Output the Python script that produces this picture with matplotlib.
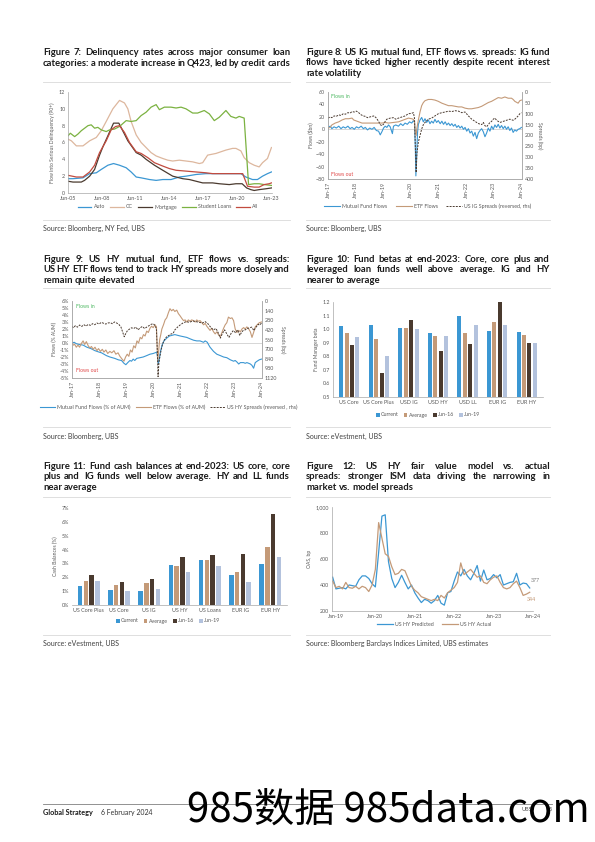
import matplotlib
matplotlib.use("Agg")
import matplotlib.pyplot as plt
from matplotlib.ticker import FuncFormatter

W, H, DPI = 595, 842, 100
plt.rcParams["font.family"] = ["Lato", "DejaVu Sans"]

BLUE = "#3B97D3"
TAN = "#C49A78"
CC_TAN = "#DDB79E"
DARK = "#4A3A2F"
GREEN = "#7BB241"
RED = "#C24B3F"
LAV = "#B3C2DD"
AXC = "#A6A6A6"
TXT = "#595959"

# ---------------- Figure 7: delinquency rates ----------------
auto_x = [2005.50, 2005.94, 2006.83, 2007.42, 2008.01, 2008.45, 2009.04, 2009.54, 2010.07, 2010.66,
          2011.10, 2011.55, 2011.99, 2012.73, 2013.32, 2013.91, 2014.64, 2015.38, 2015.97, 2016.86,
          2017.74, 2018.92, 2019.51, 2020.40, 2020.84, 2021.28, 2021.87, 2022.31, 2022.76, 2023.20, 2023.55]
auto_y = [1.7, 1.7, 1.8, 2.3, 2.4, 2.8, 3.3, 3.5, 3.3, 3.0,
          2.5, 1.9, 1.8, 1.6, 1.5, 1.6, 1.6, 1.9, 2.0, 2.2,
          2.3, 2.3, 2.3, 2.3, 2.3, 1.9, 1.6, 1.6, 2.0, 2.3, 2.5]
cc_x = [2005.50, 2005.80, 2006.24, 2006.83, 2007.42, 2008.01, 2008.45, 2008.89, 2009.48, 2010.07,
        2010.51, 2010.81, 2011.10, 2011.55, 2011.99, 2012.43, 2012.87, 2013.32, 2013.91, 2014.35,
        2014.79, 2015.38, 2015.97, 2016.56, 2017.15, 2017.45, 2017.89, 2018.63, 2019.07, 2019.51,
        2020.10, 2020.40, 2020.84, 2021.13, 2021.58, 2022.02, 2022.46, 2022.76, 2023.20, 2023.55]
cc_y = [6.4, 6.2, 5.6, 5.6, 6.2, 6.6, 7.4, 8.5, 10.0, 11.0,
        10.7, 10.0, 8.5, 6.9, 6.0, 5.4, 4.8, 4.4, 4.1, 3.9,
        3.8, 3.9, 3.8, 3.7, 3.5, 3.6, 4.5, 4.7, 4.9, 5.1,
        5.3, 5.3, 5.0, 4.2, 3.6, 3.3, 3.1, 3.6, 4.1, 5.4]
mort_x = [2005.50, 2005.94, 2006.68, 2006.97, 2007.42, 2007.86, 2008.30, 2008.60, 2009.04, 2009.54,
          2010.01, 2010.51, 2010.81, 2011.55, 2011.99, 2012.43, 2013.17, 2013.91, 2014.79, 2015.68,
          2016.27, 2016.86, 2017.45, 2018.33, 2018.92, 2019.81, 2020.40, 2020.95, 2021.35, 2021.72,
          2022.02, 2022.46, 2023.05, 2023.55]
mort_y = [1.4, 1.3, 1.3, 1.5, 2.0, 2.8, 4.5, 5.5, 6.8, 8.3,
          8.3, 7.0, 6.2, 4.8, 4.5, 4.0, 3.3, 2.7, 2.0, 1.7,
          1.6, 1.4, 1.2, 1.2, 1.1, 1.0, 1.1, 1.1, 0.6, 0.4,
          0.3, 0.4, 0.5, 0.6]
stud_x = [2005.50, 2005.71, 2006.09, 2006.38, 2006.68, 2007.27, 2007.56, 2007.86, 2008.15, 2008.45,
          2008.89, 2009.19, 2009.63, 2010.07, 2010.66, 2011.10, 2011.55, 2011.99, 2012.43, 2012.87,
          2013.32, 2013.61, 2014.05, 2014.64, 2015.09, 2015.53, 2015.97, 2016.56, 2017.00, 2017.59,
          2018.04, 2018.48, 2018.92, 2019.51, 2019.95, 2020.40, 2020.69, 2021.13, 2021.52, 2022.02,
          2022.46, 2022.90, 2023.55]
stud_y = [6.8, 7.1, 6.7, 7.0, 7.4, 8.0, 8.1, 7.7, 7.8, 7.5,
          7.3, 7.5, 7.6, 7.9, 8.6, 8.5, 8.6, 9.2, 9.6, 10.2,
          10.5, 9.9, 10.2, 10.2, 10.1, 10.2, 10.0, 9.5, 9.5, 9.8,
          9.4, 8.6, 9.0, 9.8, 9.1, 8.9, 9.1, 8.9, 1.0, 1.1,
          1.1, 1.0, 0.9]
all_x = [2005.50, 2006.24, 2006.83, 2007.42, 2007.86, 2008.30, 2008.89, 2009.33, 2009.72, 2010.07,
         2010.51, 2010.96, 2011.55, 2011.99, 2012.58, 2013.17, 2013.91, 2014.50, 2015.09, 2015.97,
         2016.86, 2017.74, 2018.33, 2019.51, 2020.40, 2021.00, 2021.43, 2022.02, 2022.46, 2022.90,
         2023.35, 2023.55]
all_y = [2.1, 1.9, 1.9, 2.5, 3.3, 4.8, 6.2, 7.5, 7.9, 8.0,
         7.2, 6.0, 4.9, 4.7, 4.2, 3.6, 3.2, 2.9, 2.7, 2.6,
         2.5, 2.4, 2.3, 2.3, 2.3, 2.3, 0.8, 0.7, 0.7, 1.0,
         1.1, 1.2]
f7_ticks = [2005.5, 2008.5, 2011.5, 2014.5, 2017.5, 2020.5, 2023.5]
f7_labels = ["Jun-05", "Jun-08", "Jun-11", "Jun-14", "Jun-17", "Jun-20", "Jun-23"]

# ---------------- Figure 8: US IG flows vs spreads ----------------
ig_mf_x = [2017.00, 2017.08, 2017.14, 2017.22, 2017.30, 2017.39, 2017.47, 2017.55, 2017.63, 2017.72,
           2017.80, 2017.87, 2017.95, 2018.03, 2018.11, 2018.20, 2018.28, 2018.35, 2018.43, 2018.51,
           2018.59, 2018.67, 2018.75, 2018.83, 2018.89, 2018.95, 2019.01, 2019.07, 2019.13, 2019.19,
           2019.25, 2019.33, 2019.37, 2019.45, 2019.55, 2019.63, 2019.71, 2019.79, 2019.87, 2019.95,
           2020.03, 2020.09, 2020.13, 2020.16, 2020.18, 2020.21, 2020.24, 2020.27, 2020.33, 2020.39,
           2020.45, 2020.51, 2020.57, 2020.63, 2020.69, 2020.75, 2020.81, 2020.87, 2020.93, 2020.99,
           2021.06, 2021.12, 2021.18, 2021.24, 2021.30, 2021.36, 2021.42, 2021.48, 2021.54, 2021.60,
           2021.66, 2021.72, 2021.78, 2021.84, 2021.90, 2021.96, 2022.02, 2022.08, 2022.14, 2022.20,
           2022.26, 2022.32, 2022.38, 2022.44, 2022.50, 2022.56, 2022.62, 2022.68, 2022.74, 2022.80,
           2022.86, 2022.92, 2022.98, 2023.04, 2023.10, 2023.16, 2023.22, 2023.28, 2023.34, 2023.40,
           2023.46, 2023.52, 2023.58, 2023.64, 2023.70, 2023.76, 2023.82, 2023.88, 2023.94, 2024.00]
ig_mf_y = [3, 5, 1, 4, 2, 5, 1, 4, 2, 5,
           1, 3, 0, 4, 2, 5, 1, 3, -1, 2,
           0, 3, -2, -3, -9, -4, 2, 5, 3, 7,
           4, -7, 5, 7, 5, 9, 6, 10, 8, 12,
           10, 14, 11, -30, -75, -40, -5, 8, 15, 19,
           12, 17, 11, 15, 9, 13, 10, 16, 11, 14,
           9, 13, 8, 12, 7, 10, 6, 9, 5, 8,
           3, 6, 2, 5, 0, 3, -3, 1, -6, -3,
           -11, -5, -15, -6, -2, 1, -4, -12, -6, 2,
           -3, 5, 0, 7, 3, 8, 2, 6, 1, 5,
           0, 4, -2, 2, -5, -1, -3, 0, 1, 3]
ig_etf_x = [2017.00, 2017.08, 2017.14, 2017.26, 2017.39, 2017.51, 2017.63, 2017.75, 2017.87, 2017.93,
            2017.99, 2018.11, 2018.23, 2018.35, 2018.47, 2018.59, 2018.71, 2018.83, 2018.95, 2019.07,
            2019.19, 2019.37, 2019.55, 2019.67, 2019.79, 2019.91, 2020.03, 2020.09, 2020.13, 2020.16,
            2020.19, 2020.21, 2020.27, 2020.33, 2020.39, 2020.45, 2020.51, 2020.63, 2020.75, 2020.87,
            2020.99, 2021.12, 2021.24, 2021.36, 2021.48, 2021.60, 2021.72, 2021.84, 2021.96, 2022.08,
            2022.20, 2022.32, 2022.44, 2022.56, 2022.68, 2022.80, 2022.92, 2023.04, 2023.16, 2023.28,
            2023.40, 2023.52, 2023.64, 2023.70, 2023.76, 2023.88, 2023.94, 2024.00]
ig_etf_y = [2, 3, 7, 10, 12, 15, 17, 17, 18, 15,
            14, 12, 10, 10, 10, 10, 10, 10, 10, 11,
            10, 11, 12, 14, 16, 18, 17, 16, 12, -5,
            -10, 0, 15, 28, 38, 43, 46, 48, 48, 47,
            45, 42, 40, 38, 38, 37, 36, 36, 34, 33,
            33, 34, 35, 37, 40, 43, 45, 48, 51, 50,
            52, 50, 50, 48, 45, 42, 46, 47]
ig_spr_x = [2017.00, 2017.08, 2017.14, 2017.22, 2017.30, 2017.39, 2017.47, 2017.55, 2017.63, 2017.72,
            2017.80, 2017.87, 2017.95, 2018.03, 2018.11, 2018.20, 2018.28, 2018.35, 2018.43, 2018.51,
            2018.59, 2018.67, 2018.75, 2018.83, 2018.89, 2018.95, 2019.01, 2019.07, 2019.13, 2019.25,
            2019.37, 2019.45, 2019.55, 2019.67, 2019.79, 2019.91, 2020.03, 2020.09, 2020.13, 2020.16,
            2020.19, 2020.22, 2020.27, 2020.33, 2020.39, 2020.45, 2020.51, 2020.63, 2020.75, 2020.87,
            2020.99, 2021.12, 2021.24, 2021.36, 2021.48, 2021.60, 2021.72, 2021.84, 2021.96, 2022.08,
            2022.20, 2022.32, 2022.44, 2022.56, 2022.62, 2022.68, 2022.74, 2022.80, 2022.86, 2022.92,
            2022.98, 2023.04, 2023.10, 2023.22, 2023.34, 2023.46, 2023.58, 2023.70, 2023.76, 2023.82,
            2023.88, 2023.94, 2024.00]
ig_spr_y = [120, 115, 118, 110, 112, 105, 108, 100, 102, 95,
            97, 90, 92, 88, 95, 105, 110, 112, 118, 115,
            112, 110, 120, 135, 150, 155, 148, 135, 125, 120,
            118, 125, 120, 115, 110, 100, 98, 95, 120, 250,
            370, 280, 230, 200, 170, 150, 140, 125, 120, 110,
            100, 95, 92, 88, 90, 86, 88, 95, 92, 110,
            125, 135, 145, 150, 140, 155, 160, 150, 140, 135,
            125, 120, 130, 140, 135, 130, 125, 130, 125, 118,
            110, 100, 95]
year_ticks = [2017, 2018, 2019, 2020, 2021, 2022, 2023, 2024]
year_labels = ["Jan-17", "Jan-18", "Jan-19", "Jan-20", "Jan-21", "Jan-22", "Jan-23", "Jan-24"]

# ---------------- Figure 9: US HY flows vs spreads ----------------
hy_mf_x = [2017.00, 2017.08, 2017.16, 2017.25, 2017.41, 2017.55, 2017.70, 2017.85, 2018.00, 2018.09,
           2018.27, 2018.40, 2018.58, 2018.71, 2018.83, 2018.92, 2018.99, 2019.06, 2019.14, 2019.20,
           2019.26, 2019.32, 2019.39, 2019.51, 2019.63, 2019.76, 2019.88, 2020.00, 2020.07, 2020.13,
           2020.16, 2020.19, 2020.23, 2020.27, 2020.33, 2020.40, 2020.50, 2020.60, 2020.70, 2020.80,
           2020.90, 2021.00, 2021.12, 2021.24, 2021.36, 2021.49, 2021.61, 2021.73, 2021.86, 2021.92,
           2022.00, 2022.04, 2022.10, 2022.23, 2022.35, 2022.48, 2022.60, 2022.72, 2022.85, 2022.97,
           2023.03, 2023.09, 2023.16, 2023.22, 2023.34, 2023.40, 2023.46, 2023.53, 2023.59, 2023.65,
           2023.71, 2023.77, 2023.84, 2023.92, 2024.00]
hy_mf_y = [0.0, 0.1, -0.1, -0.2, -0.3, -0.6, -0.8, -1.1, -1.3, -1.4,
           -1.8, -2.0, -2.2, -2.4, -2.5, -2.9, -3.1, -2.8, -2.5, -2.6,
           -2.3, -2.5, -2.2, -2.1, -2.0, -1.8, -1.6, -1.5, -1.4, -1.3,
           -2.0, -3.0, -2.2, -1.2, -0.3, 0.3, 0.7, 1.0, 1.1, 1.2,
           1.1, 1.0, 0.9, 0.8, 0.6, 0.4, 0.3, 0.3, 0.1, 0.3,
           0.1, -0.2, -0.6, -1.2, -1.6, -1.8, -2.0, -2.1, -2.4, -2.6,
           -2.5, -2.7, -3.0, -2.8, -2.8, -2.9, -2.8, -2.9, -3.0, -3.2,
           -3.6, -2.8, -2.6, -2.4, -2.3]
hy_etf_x = [2017.00, 2017.05, 2017.10, 2017.16, 2017.22, 2017.28, 2017.34, 2017.41, 2017.47, 2017.53,
            2017.60, 2017.66, 2017.72, 2017.78, 2017.85, 2017.92, 2017.98, 2018.05, 2018.12, 2018.18,
            2018.25, 2018.32, 2018.40, 2018.47, 2018.55, 2018.62, 2018.70, 2018.77, 2018.85, 2018.92,
            2018.98, 2019.04, 2019.10, 2019.16, 2019.22, 2019.28, 2019.34, 2019.40, 2019.46, 2019.52,
            2019.58, 2019.64, 2019.70, 2019.76, 2019.82, 2019.88, 2019.94, 2020.00, 2020.07, 2020.12,
            2020.15, 2020.17, 2020.20, 2020.24, 2020.28, 2020.32, 2020.38, 2020.44, 2020.50, 2020.56,
            2020.62, 2020.68, 2020.74, 2020.80, 2020.87, 2020.93, 2020.99, 2021.06, 2021.12, 2021.18,
            2021.24, 2021.30, 2021.36, 2021.42, 2021.49, 2021.55, 2021.61, 2021.67, 2021.73, 2021.80,
            2021.86, 2021.92, 2021.98, 2022.04, 2022.10, 2022.16, 2022.23, 2022.29, 2022.35, 2022.41,
            2022.48, 2022.54, 2022.60, 2022.66, 2022.72, 2022.78, 2022.85, 2022.91, 2022.97, 2023.03,
            2023.09, 2023.16, 2023.22, 2023.28, 2023.34, 2023.40, 2023.46, 2023.53, 2023.59, 2023.65,
            2023.71, 2023.77, 2023.84, 2023.92, 2024.00]
hy_etf_y = [0.0, -0.3, -0.2, -0.6, -0.3, -0.6, -0.1, 0.3, -0.2, 0.2,
            -0.4, -0.7, -0.5, -0.9, -0.6, -1.1, -0.8, -1.2, -0.9, -1.3,
            -1.0, -1.5, -1.2, -1.4, -1.1, -1.6, -1.4, -1.9, -2.3, -2.6,
            -2.0, -1.6, -1.9, -1.0, -1.3, -0.4, -0.7, 0.3, 0.0, 0.8,
            0.6, 1.2, 1.0, 1.7, 1.5, 2.1, 2.4, 2.2, 2.6, 2.3,
            -1.0, -2.5, -1.2, 0.5, 1.2, 2.0, 2.6, 3.3, 3.6, 4.3,
            4.9, 4.6, 4.8, 4.5, 4.7, 4.2, 3.9, 3.5, 3.2, 3.3,
            3.0, 3.3, 3.1, 3.3, 3.2, 3.0, 3.3, 3.1, 3.2, 2.9,
            2.6, 2.8, 2.4, 2.1, 1.8, 2.1, 1.6, 1.3, 1.6, 1.2,
            0.9, 1.5, 2.1, 2.6, 2.9, 3.7, 3.5, 3.6, 3.2, 2.0,
            1.5, 1.8, 1.6, 2.0, 2.2, 2.0, 2.3, 2.0, 1.6, 0.8,
            1.5, 2.3, 2.6, 2.9, 3.0]
hy_spr_x = [2017.00, 2017.06, 2017.12, 2017.20, 2017.28, 2017.36, 2017.44, 2017.52, 2017.60, 2017.68,
            2017.76, 2017.84, 2017.92, 2018.00, 2018.09, 2018.17, 2018.25, 2018.33, 2018.41, 2018.49,
            2018.57, 2018.65, 2018.73, 2018.81, 2018.87, 2018.93, 2018.99, 2019.05, 2019.12, 2019.20,
            2019.28, 2019.36, 2019.44, 2019.52, 2019.60, 2019.68, 2019.76, 2019.84, 2019.92, 2020.00,
            2020.08, 2020.12, 2020.15, 2020.18, 2020.21, 2020.25, 2020.30, 2020.35, 2020.42, 2020.50,
            2020.58, 2020.66, 2020.74, 2020.80, 2020.90, 2020.99, 2021.10, 2021.22, 2021.34, 2021.46,
            2021.58, 2021.70, 2021.82, 2021.92, 2022.02, 2022.12, 2022.22, 2022.32, 2022.40, 2022.48,
            2022.56, 2022.64, 2022.72, 2022.80, 2022.88, 2022.96, 2023.04, 2023.12, 2023.20, 2023.26,
            2023.32, 2023.40, 2023.48, 2023.56, 2023.64, 2023.72, 2023.80, 2023.88, 2023.94, 2024.00]
hy_spr_y = [370, 390, 360, 380, 350, 370, 345, 365, 340, 355,
            330, 345, 320, 335, 310, 325, 335, 320, 315, 330,
            305, 320, 340, 380, 450, 520, 470, 430, 410, 390,
            400, 380, 420, 390, 370, 400, 380, 360, 340, 330,
            360, 420, 700, 1100, 900, 800, 700, 620, 560, 520,
            500, 480, 470, 420, 380, 350, 320, 300, 310, 290,
            300, 310, 320, 300, 330, 380, 420, 400, 460, 540,
            470, 420, 480, 530, 470, 430, 460, 420, 500, 460,
            430, 420, 400, 390, 380, 430, 380, 340, 350, 320]

# ---------------- Figure 10: fund betas ----------------
beta_cats = ["US Core", "US Core Plus", "USD IG", "USD HY", "USD LL", "EUR IG", "EUR HY"]
beta_current = [1.02, 1.03, 1.01, 0.97, 1.10, 0.99, 0.98]
beta_average = [0.97, 0.93, 1.01, 0.95, 0.97, 1.05, 0.96]
beta_jun16 = [0.88, 0.68, 1.07, 0.84, 0.89, 1.20, 0.895]
beta_jun19 = [0.94, 0.80, 1.00, 0.95, 1.03, 1.03, 0.90]

# ---------------- Figure 11: cash balances (%) ----------------
cash_cats = ["US Core Plus", "US Core", "US IG", "US HY", "US Loans", "EUR IG", "EUR HY"]
cash_current = [1.40, 1.09, 0.99, 2.87, 3.26, 2.15, 2.95]
cash_average = [1.76, 1.45, 1.59, 2.83, 3.26, 2.37, 4.15]
cash_jun16 = [2.14, 1.64, 1.91, 3.45, 3.60, 3.65, 6.59]
cash_jun19 = [1.76, 0.99, 1.18, 2.39, 2.78, 1.67, 3.45]

# ---------------- Figure 12: HY fair value model (monthly, 0 = Jan-19) ----------------
fv_month = list(range(-1, 60))
fv_pred = [460, 370, 375, 380, 370, 400, 395, 390, 440, 470, 470,
           450, 410, 385, 650, 930, 940, 580, 450, 380, 420,
           475, 420, 370, 400, 340, 300, 265, 290, 280, 260,
           280, 320, 260, 245, 340, 350, 430, 500, 470, 520,
           470, 440, 490, 550, 430, 515, 440, 450, 480, 455,
           480, 400, 410, 420, 425, 490, 400, 415, 410, 377]
fv_act = [430, 380, 390, 370, 420, 380, 375, 390, 370, 390, 380,
          350, 400, 520, 880, 760, 640, 620, 540, 480, 490,
          520, 510, 450, 390, 360, 340, 310, 300, 290, 280,
          290, 280, 320, 300, 340, 360, 380, 420, 570, 480,
          500, 520, 490, 460, 470, 420, 410, 440, 460, 470,
          420, 380, 370, 380, 410, 430, 380, 320, 330, 344]
fv_ticks = [0, 12, 24, 36, 48, 60]
fv_labels = ["Jan-19", "Jan-20", "Jan-21", "Jan-22", "Jan-23", "Jan-24"]

TITLES = {
    7: ["Figure 7: Delinquency rates across major consumer loan",
        "categories: a moderate increase in Q423, led by credit cards"],
    8: ["Figure 8: US IG mutual fund, ETF flows vs. spreads: IG fund",
        "flows have ticked higher recently despite recent interest",
        "rate volatility"],
    9: ["Figure 9: US HY mutual fund, ETF flows vs. spreads:",
        "US HY ETF flows tend to track HY spreads more closely and",
        "remain quite elevated"],
    10: ["Figure 10: Fund betas at end-2023: Core, core plus and",
         "leveraged loan funds well above average. IG and HY",
         "nearer to average"],
    11: ["Figure 11: Fund cash balances at end-2023: US core, core",
         "plus and IG funds well below average. HY and LL funds",
         "near average"],
    12: ["Figure 12: US HY fair value model vs. actual",
         "spreads: stronger ISM data driving the narrowing in",
         "market vs. model spreads"],
}


def box(l, t, r, b):
    return [l / W, 1 - b / H, (r - l) / W, (b - t) / H]


def fxy(x, y):
    return x / W, 1 - y / H


def title_block(fig, lines, x0, x1, y0, step, size=6.8):
    rend = fig.canvas.get_renderer()
    space = size * 0.24 * DPI / 72
    for i, line in enumerate(lines):
        words = line.split()
        objs = [fig.text(0, 0, w, fontsize=size, fontweight="bold", color="#1a1a1a",
                         va="baseline") for w in words]
        widths = [o.get_window_extent(rend).width for o in objs]
        free = (x1 - x0) - sum(widths)
        gap = free / (len(words) - 1) if len(words) > 1 else 0
        if i == len(lines) - 1 and free > 25:
            gap = space
        x = x0
        for o, w in zip(objs, widths):
            o.set_position(fxy(x, y0 + i * step))
            x += w + gap


def rule(fig, x0, x1, y):
    fig.add_artist(plt.Line2D([x0 / W, x1 / W], [1 - y / H, 1 - y / H],
                              color="#d9d9d9", lw=0.6))


def source(fig, x, y, text):
    fig.text(*fxy(x, y), text, fontsize=5.0, color="#404040", va="baseline")


def style(ax, spines=("left", "bottom")):
    for s in ["left", "right", "top", "bottom"]:
        ax.spines[s].set_visible(s in spines)
        ax.spines[s].set_color(AXC)
        ax.spines[s].set_linewidth(0.5)
    ax.tick_params(length=0, labelsize=3.9, colors=TXT, pad=2)


def legend(fig, handles, labels, cx, cy, **kw):
    opts = dict(loc="center", bbox_to_anchor=fxy(cx, cy), ncol=len(handles), frameon=False,
                fontsize=3.8, handlelength=2.8, columnspacing=1.0, handletextpad=0.4,
                labelcolor=TXT)
    opts.update(kw)
    fig.legend(handles, labels, **opts)


fig = plt.figure(figsize=(W / DPI, H / DPI), dpi=DPI)
fig.patch.set_facecolor("white")

L0, L1, R0, R1 = 43, 290, 306, 550

# ---- Fig 7
title_block(fig, TITLES[7], L0, L1, 55, 10.6)
rule(fig, L0, L1, 82)
ax = fig.add_axes(box(68, 92, 272, 193))
h = []
for xs, ys, c, lab in [(auto_x, auto_y, BLUE, "Auto"), (cc_x, cc_y, CC_TAN, "CC"),
                       (mort_x, mort_y, DARK, "Mortgage"), (stud_x, stud_y, GREEN, "Student Loans"),
                       (all_x, all_y, RED, "All")]:
    h += ax.plot(xs, ys, color=c, lw=0.9, label=lab)
ax.set_xlim(2005.5, 2023.6)
ax.set_ylim(0, 12)
ax.set_yticks(range(0, 13, 2))
ax.set_xticks(f7_ticks)
ax.set_xticklabels(f7_labels)
ax.set_ylabel("Flow into Serious Delinquency (90+)", fontsize=3.6, color=TXT, labelpad=3)
style(ax)
legend(fig, h, [l.get_label() for l in h], 168, 207, handlelength=2.6, columnspacing=1.0)
rule(fig, L0, L1, 220)
source(fig, L0, 231, "Source: Bloomberg, NY Fed, UBS")

# ---- Fig 8
title_block(fig, TITLES[8], R0, R1, 55, 10.4)
rule(fig, R0, R1, 82)
ax = fig.add_axes(box(328, 92, 522, 179))
axr = ax.twinx()
h1 = ax.plot(ig_mf_x, ig_mf_y, color=BLUE, lw=0.8)
h2 = ax.plot(ig_etf_x, ig_etf_y, color=TAN, lw=0.8)
h3 = axr.plot(ig_spr_x, ig_spr_y, color=DARK, lw=0.7, ls=(0, (2, 1.2)))
ax.axhline(0, color="#d0d0d0", lw=0.6, zorder=0)
ax.set_xlim(2017, 2024.02)
ax.set_ylim(-80, 60)
ax.set_yticks(range(-80, 61, 20))
axr.set_ylim(400, 0)
axr.set_yticks(range(0, 401, 50))
ax.set_xticks(year_ticks)
ax.set_xticklabels(year_labels, rotation=90)
ax.set_ylabel("Flows ($bn)", fontsize=3.6, color=TXT, labelpad=2)
axr.set_ylabel("Spreads (bp)", fontsize=3.6, color=TXT, labelpad=2, rotation=270, va="bottom")
style(ax, ("left", "right", "bottom"))
style(axr, ("left", "right", "bottom"))
ax.text(2017.1, 57, "Flows in", fontsize=3.7, color="#4CB860", va="top")
ax.text(2017.1, -77, "Flows out", fontsize=3.7, color="#E04848", va="bottom")
legend(fig, h1 + h2 + h3, ["Mutual Fund Flows", "ETF Flows", "US IG Spreads (reversed, rhs)"],
       428, 206, handlelength=3.0, columnspacing=1.6)
rule(fig, R0, R1, 220)
source(fig, R0, 231, "Source: Bloomberg, UBS")

# ---- Fig 9
title_block(fig, TITLES[9], L0, L1, 262, 10.3)
rule(fig, L0, L1, 288)
ax = fig.add_axes(box(72, 301, 262, 378))
axr = ax.twinx()
h1 = ax.plot(hy_mf_x, hy_mf_y, color=BLUE, lw=0.8)
h2 = ax.plot(hy_etf_x, hy_etf_y, color=TAN, lw=0.8)
h3 = axr.plot(hy_spr_x, hy_spr_y, color=DARK, lw=0.7, ls=(0, (2, 1.2)))
ax.axhline(0, color="#d0d0d0", lw=0.6, zorder=0)
ax.set_xlim(2017, 2024.02)
ax.set_ylim(-5, 6)
ax.set_yticks(range(-5, 7))
ax.yaxis.set_major_formatter(FuncFormatter(lambda v, p: f"{v:.0f}%"))
axr.set_ylim(1120, 0)
axr.set_yticks(range(0, 1121, 140))
ax.set_xticks(year_ticks)
ax.set_xticklabels(year_labels, rotation=90)
ax.set_ylabel("Flows (% AUM)", fontsize=3.6, color=TXT, labelpad=2)
axr.set_ylabel("Spreads (bp)", fontsize=3.6, color=TXT, labelpad=2, rotation=270, va="bottom")
style(ax, ("left", "right", "bottom"))
style(axr, ("left", "right", "bottom"))
ax.text(2017.15, 5.6, "Flows in", fontsize=3.7, color="#4CB860", va="top")
ax.text(2017.15, -4.3, "Flows out", fontsize=3.7, color="#E04848", va="bottom")
legend(fig, h1 + h2 + h3, ["Mutual Fund Flows (% of AUM)", "ETF Flows (% of AUM)",
                           "US HY Spreads (reversed , rhs)"], 169, 407, columnspacing=1.0,
       handlelength=2.8)
rule(fig, L0, L1, 427)
source(fig, L0, 439, "Source: Bloomberg, UBS")


def grouped_bars(ax, cats, series, colors, width=0.135, step=0.185):
    handles = []
    for k, (vals, c) in enumerate(zip(series, colors)):
        off = (k - 1.5) * step
        handles.append(ax.bar([i + off for i in range(len(cats))], vals, width, color=c))
    ax.set_xticks(range(len(cats)))
    ax.set_xticklabels(cats)
    ax.set_xlim(-0.55, len(cats) - 0.45)
    return handles


BAR_COLORS = [BLUE, TAN, DARK, LAV]
BAR_LABELS = ["Current", "Average", "Jun-16", "Jun-19"]

# ---- Fig 10
title_block(fig, TITLES[10], R0, R1, 262, 10.3)
rule(fig, R0, R1, 288)
ax = fig.add_axes(box(333, 302, 543, 397))
hb = grouped_bars(ax, beta_cats, [beta_current, beta_average, beta_jun16, beta_jun19], BAR_COLORS)
ax.set_ylim(0.5, 1.2)
ax.set_yticks([0.5, 0.6, 0.7, 0.8, 0.9, 1.0, 1.1, 1.2])
ax.yaxis.set_major_formatter(FuncFormatter(lambda v, p: f"{v:.1f}"))
ax.set_ylabel("Fund Manager beta", fontsize=3.6, color=TXT, labelpad=3)
style(ax)
legend(fig, hb, BAR_LABELS, 428, 415, handlelength=0.7, handleheight=0.7, columnspacing=1.0,
       handletextpad=0.2)
rule(fig, R0, R1, 427)
source(fig, R0, 439, "Source: eVestment, UBS")

# ---- Fig 11
title_block(fig, TITLES[11], L0, L1, 469, 10.4)
rule(fig, L0, L1, 497)
ax = fig.add_axes(box(72, 508, 287, 605))
hb = grouped_bars(ax, cash_cats, [cash_current, cash_average, cash_jun16, cash_jun19], BAR_COLORS,
                  width=0.15, step=0.19)
ax.set_ylim(0, 7)
ax.set_yticks(range(0, 8))
ax.yaxis.set_major_formatter(FuncFormatter(lambda v, p: f"{v:.0f}%"))
ax.set_ylabel("Cash Balances (%)", fontsize=3.6, color=TXT, labelpad=3)
style(ax, ("bottom",))
legend(fig, hb, BAR_LABELS, 168, 621, handlelength=0.7, handleheight=0.7, columnspacing=1.0,
       handletextpad=0.2)
rule(fig, L0, L1, 635)
source(fig, L0, 646, "Source: eVestment, UBS")

# ---- Fig 12
title_block(fig, TITLES[12], R0, R1, 469, 10.4)
rule(fig, R0, R1, 497)
ax = fig.add_axes(box(332, 507, 533, 611))
h1 = ax.plot(fv_month, fv_pred, color=BLUE, lw=0.9)
h2 = ax.plot(fv_month, fv_act, color=TAN, lw=0.9)
ax.set_xlim(-1.2, 60)
ax.set_ylim(200, 1000)
ax.set_yticks(range(200, 1001, 200))
ax.yaxis.set_major_formatter(FuncFormatter(lambda v, p: f"{v:,.0f}"))
ax.set_xticks(fv_ticks)
ax.set_xticklabels(fv_labels)
ax.set_ylabel("OAS, bp", fontsize=3.6, color=TXT, labelpad=3)
style(ax)
ax.annotate(f"{fv_pred[-1]}", (fv_month[-1], fv_pred[-1]), xytext=(0.5, 4),
            textcoords="offset points", fontsize=3.8, color="#7f7f7f")
ax.annotate(f"{fv_act[-1]}", (fv_month[-1], fv_act[-1]), xytext=(-2, -6),
            textcoords="offset points", fontsize=3.8, color=TAN)
legend(fig, h1 + h2, ["US HY Predicted", "US HY Actual"], 434, 624, handlelength=3.0,
       columnspacing=1.6)
rule(fig, R0, R1, 635)
source(fig, R0, 646, "Source: Bloomberg Barclays Indices Limited, UBS estimates")

# ---- footer
fig.add_artist(plt.Line2D([L0 / W, 552 / W], [1 - 804 / H, 1 - 804 / H], color="#808080", lw=0.6))
fig.text(*fxy(L0, 815), "Global Strategy", fontsize=5.2, fontweight="bold", color="#1a1a1a",
         va="baseline")
fig.text(*fxy(101, 815), "6 February 2024", fontsize=5.0, color="#333333", va="baseline")
fig.text(*fxy(521, 811), "UBS", fontsize=4.0, color="#555555", va="baseline")
fig.text(*fxy(549, 811), "5", fontsize=4.0, color="#555555", va="baseline")
fig.text(*fxy(187, 822), "985数据 985data.com", fontsize=29, color="black", va="baseline",
         family=["Noto Sans CJK SC", "DejaVu Sans"])

fig.savefig("out.png", dpi=DPI, facecolor="white")
